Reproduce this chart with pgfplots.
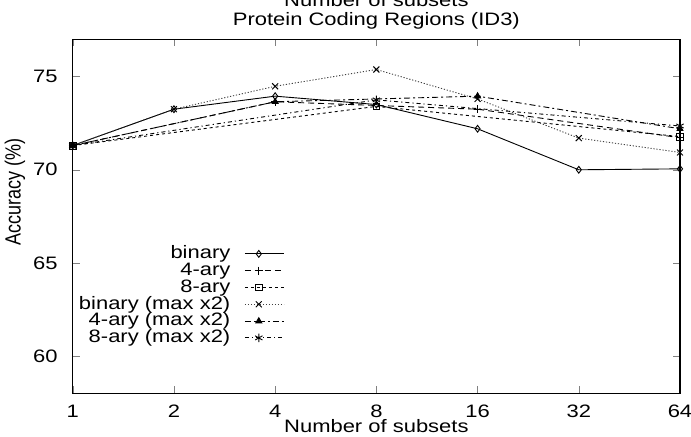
\documentclass[border=0pt]{standalone}
\usepackage{pgfplots}
\pgfplotsset{compat=1.18}
\usetikzlibrary{calc}
\usepackage{graphicx}
\usepackage{fontspec}
\setmainfont{Liberation Sans}[FakeStretch=1.22]
\newfontfamily\ylfont{Liberation Sans}
\begin{document}
\fontsize{9}{10.5}\selectfont
\begin{tikzpicture}
\begin{axis}[
  name=ax, at={(0,0)}, anchor=south west,
  scale only axis, width=303.5pt, height=177pt,
  xmode=log, log basis x=2,
  xmin=1, xmax=64, ymin=58, ymax=77,
  xtick={1,2,4,8,16,32,64}, xticklabels={1,2,4,8,16,32,64},
  ytick={60,65,70,75},
  minor tick num=0,
  tick align=inside, major tick length=3.5pt,
  /pgf/number format/assume math mode=true,
  font=\fontsize{9}{10.5}\selectfont,
  xticklabel style={anchor=center, inner sep=0pt, yshift=-8.85pt},
  yticklabel style={anchor=east, inner sep=0pt, xshift=-7.35pt},
  xlabel={Number of subsets},
  xlabel style={at={(axis description cs:0.5,0)}, anchor=base, yshift=-19.7pt},
  ylabel={\scalebox{1}[1.22]{\ylfont Accuracy (\%)}},
  ylabel style={at={(axis description cs:0,0.5)}, anchor=center, xshift=12pt, yshift=28.85pt},
  clip=false,
  axis line style={line width=0.6pt},
  legend plot pos=right,
  legend cell align=right,
  legend style={draw=none, fill=none, inner sep=0pt, row sep=0.7pt,
    at={(rel axis cs:0.349,0.417)}, anchor=north east,
    nodes={inner sep=0pt, text height=6.2pt, text depth=1.5pt},
    /tikz/every odd column/.style={column sep=7pt}},
  legend image code/.code={%
    \draw[#1, mark repeat=2, mark phase=2] plot coordinates {(0pt,0pt) (7pt,0pt) (19.5pt,0pt)};},
  every axis plot/.append style={line width=0.45pt, mark size=1.7pt},
]
\addplot[black, solid, mark=diamond, mark options={solid}] coordinates {
 (1,71.3) (2,73.25) (4,73.95) (8,73.5) (16,72.2) (32,70.0) (64,70.05)};
\addlegendentry{binary}
\addplot[black, dash pattern=on 3pt off 2pt, mark=+, mark size=2pt, mark options={solid}] coordinates {
 (1,71.3) (4,73.65) (16,73.25) (64,71.72)};
\addlegendentry{4-ary}
\addplot[black, dash pattern=on 1.5pt off 1.5pt, mark=square, mark options={solid}] coordinates {
 (1,71.3) (8,73.4) (64,71.78)};
\addlegendentry{8-ary}
\addplot[black!75, dash pattern=on 0.6pt off 0.9pt, mark=x, mark size=2.1pt, mark options={solid, black}] coordinates {
 (1,71.3) (2,73.25) (4,74.48) (8,75.38) (16,73.8) (32,71.7) (64,70.93)};
\addlegendentry{binary (max x2)}
\addplot[black, dash pattern=on 3pt off 1.5pt on 1pt off 1.5pt, mark=triangle*, mark options={solid}] coordinates {
 (1,71.3) (4,73.65) (16,73.95) (64,72.2)};
\addlegendentry{4-ary (max x2)}
\addplot[black, dash pattern=on 2pt off 1.5pt on 0.6pt off 1.5pt, mark=asterisk, mark size=2.1pt, mark options={solid}] coordinates {
 (1,71.3) (8,73.75) (64,72.35)};
\addlegendentry{8-ary (max x2)}
\node[anchor=base] at (rel axis cs:0.5,1) [yshift=7.15pt] {Protein Coding Regions (ID3)};
\node[anchor=base] at (rel axis cs:0.5,1) [yshift=16.15pt] {Number of subsets};
\end{axis}
\pgfresetboundingbox
\path[use as bounding box] ($(ax.south west)+(-36.35pt,-21.35pt)$) rectangle ($(ax.north east)+(5.5pt,19.65pt)$);
\end{tikzpicture}
\end{document}
